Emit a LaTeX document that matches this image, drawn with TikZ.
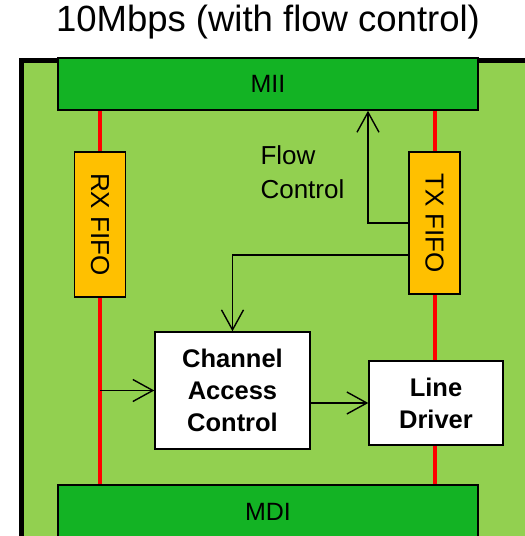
\documentclass[tikz,border=0pt]{standalone}
\usepackage{fontspec}
\setmainfont{Liberation Sans}
\usetikzlibrary{arrows.meta,positioning,backgrounds}
\definecolor{boardgreen}{HTML}{92D050}
\definecolor{busgreen}{HTML}{13B324}
\definecolor{fifoorange}{HTML}{FFC000}

\begin{document}
\begin{tikzpicture}[
  x=1pt,y=-1pt,
  bus/.style={rectangle,draw,line width=1.6pt,fill=busgreen,
              minimum width=420pt,inner sep=0pt,font=\fontsize{25}{28}\selectfont},
  fifo/.style={rectangle,draw,line width=1.4pt,fill=fifoorange,rotate=-90,
              minimum height=51pt,inner sep=0pt,font=\fontsize{26}{28}\selectfont},
  unit/.style={rectangle,draw,line width=1.4pt,fill=white,align=center,inner sep=0pt,
              font=\fontsize{25.5}{32}\selectfont\bfseries},
  wire/.style={red,line width=4pt},
  arr/.style={-{Straight Barb[length=20pt,width=22pt,line width=1.4pt]},line width=1.4pt}
]
\useasboundingbox (0,0) rectangle (525,536);

\node[font=\fontsize{36.5}{40}\selectfont] (title) at (268,22) {10Mbps (with flow control)};

\node[bus, minimum height=52pt] (mii) at (268,84) {MII};
\node[bus, minimum height=54pt] (mdi) at (268,512) {MDI};
\node[fifo, minimum width=145pt] (rx) at (100,224.5) {RX FIFO};
\node[fifo, minimum width=142pt] (tx) at (434.5,223) {TX FIFO};
\node[unit, minimum width=155pt, minimum height=117pt] (chan) at (232.5,390.5)
    {Channel\\Access\\Control};
\node[unit, minimum width=134pt, minimum height=84pt] (ld) at (436,403) {Line\\Driver};
\node[align=left,anchor=west,font=\fontsize{26}{34}\selectfont] (flow) at (257,172)
    {Flow\\Control};

\begin{scope}[on background layer]
  \draw[line width=5pt,fill=boardgreen] (21.5,60) rectangle (560,560);
  \draw[wire] (mii.south -| rx.east) -- (rx.west);
  \draw[wire] (rx.east) -- (mdi.north -| rx.east);
  \draw[wire] (mii.south -| tx.east) -- (tx.west);
  \draw[wire] (tx.east) -- (tx.east |- ld.north);
  \draw[wire] (tx.east |- ld.south) -- (tx.east |- mdi.north);
\end{scope}

\draw[arr] (tx.south) -| ([xshift=100pt]mii.south);
\draw[arr] ([yshift=-32pt]tx.south) -| (chan.north);
\draw[arr] (chan.west -| rx.center) -- (chan.west);
\draw[arr] (chan.east |- ld.west) -- (ld.west);
\end{tikzpicture}
\end{document}
